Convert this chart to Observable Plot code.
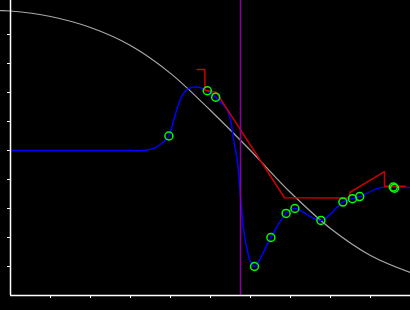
<!DOCTYPE html>
<html><head><meta charset="utf-8">
<script src="https://cdn.jsdelivr.net/npm/d3@7"></script>
<script src="https://cdn.jsdelivr.net/npm/@observablehq/plot@0.6"></script>
<style>html,body{margin:0;padding:0;background:#000;} svg{display:block}</style>
</head><body><div id="chart"></div>
<script>
// Gray reference curve
const grayX = [-0.25, 0, 1, 2, 3, 4, 5, 6, 7, 8, 9, 10];
const grayY = [9.82, 9.81, 9.62, 9.24, 8.62, 7.66, 6.38, 5.00, 3.55, 2.31, 1.38, 0.79];
// Blue interpolated curve
const blueX = [0, 1, 2, 3, 3.325, 3.625, 3.83, 3.96, 4.08, 4.21, 4.33, 4.46, 4.67, 4.92, 5.13, 5.42, 5.5, 5.58, 5.67, 5.73, 5.83, 5.92, 6.0, 6.1, 6.51, 6.89, 7.11, 7.76, 8.31, 8.55, 8.73, 9.25, 9.59, 10];
const blueY = [5.0, 5.0, 5.0, 5.0, 5.0, 5.10, 5.30, 5.50, 6.04, 6.63, 6.98, 7.14, 7.19, 7.06, 6.84, 6.39, 6.05, 5.36, 4.67, 3.74, 2.25, 1.56, 1.16, 1.0, 2.0, 2.83, 3.0, 2.59, 3.22, 3.34, 3.41, 3.72, 3.72, 3.72];
// Sample points (green circles)
const ptX = [3.96, 4.92, 5.13, 6.1, 6.51, 6.89, 7.11, 7.76, 8.31, 8.55, 8.73, 9.57, 9.6];
const ptY = [5.50, 7.06, 6.84, 1.0, 2.0, 2.83, 3.0, 2.59, 3.22, 3.34, 3.41, 3.74, 3.70];
// Red polyline
const redX = [4.67, 4.86, 4.86, 5.14, 6.85, 8.46, 8.49, 9.35, 9.35, 9.875];
const redY = [7.79, 7.79, 7.08, 7.01, 3.37, 3.36, 3.56, 4.27, 3.77, 3.77];
// Vertical marker
const markerX = [5.75];
// Ticks
const xTicks = [1, 2, 3, 4, 5, 6, 7, 8, 9];
const yTicks = [1, 2, 3, 4, 5, 6, 7, 8, 9];

const gray = grayX.map((x, i) => ({x, y: grayY[i]}));
const blue = blueX.map((x, i) => ({x, y: blueY[i]}));
const pts = ptX.map((x, i) => ({x, y: ptY[i]}));
const red = redX.map((x, i) => ({x, y: redY[i]}));

const chart = Plot.plot({
  width: 410, height: 310,
  marginLeft: 10, marginRight: 0, marginTop: 0, marginBottom: 15,
  style: {background: "#000", color: "white"},
  x: {domain: [0, 10]},
  y: {domain: [0, 295 / 29]},
  marks: [
    Plot.axisX(xTicks, {tickSize: 3, tickFormat: () => "", label: null, stroke: "white"}),
    Plot.axisY(yTicks, {tickSize: 3, tickFormat: () => "", label: null, stroke: "white"}),
    Plot.line(gray, {x: "x", y: "y", stroke: "#a8a8a8", strokeWidth: 1.2, curve: "catmull-rom"}),
    Plot.line(blue, {x: "x", y: "y", stroke: "#0000ff", strokeWidth: 1.5, curve: "catmull-rom"}),
    Plot.line(red, {x: "x", y: "y", stroke: "#cc0000", strokeWidth: 1.5}),
    Plot.ruleX(markerX, {stroke: "#8c00a0", strokeWidth: 1.5}),
    Plot.dot(pts, {x: "x", y: "y", r: 4, stroke: "#00ff00", strokeWidth: 1.5, fill: "none"}),
    Plot.ruleY([0], {stroke: "white", strokeWidth: 1.5}),
    Plot.ruleX([0], {stroke: "white", strokeWidth: 1.5})
  ]
});
document.getElementById("chart").append(chart);
</script>
</body></html>
